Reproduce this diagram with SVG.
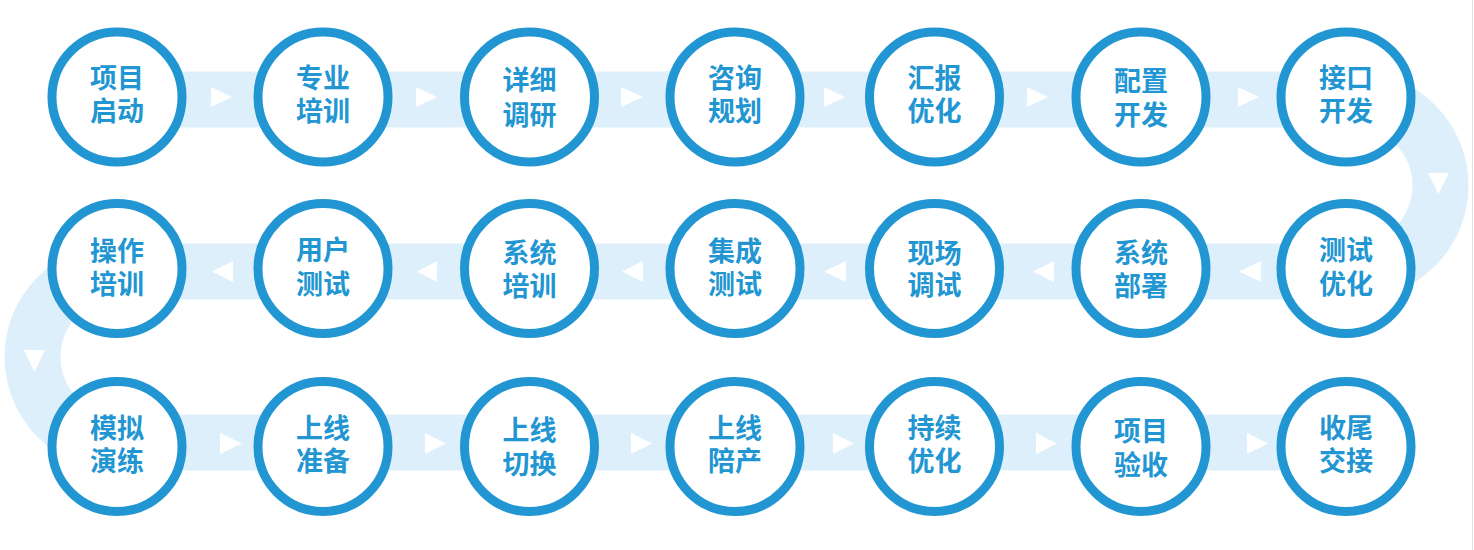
<svg xmlns="http://www.w3.org/2000/svg" width="1474" height="550" viewBox="0 0 1474 550">
<style>
.band{fill:none;stroke:#DDEFFA;stroke-width:56}
.arr{fill:#FFFFFF}
.ring{fill:#FFFFFF;stroke:#2196D2;stroke-width:9}
.lbl{font-family:"Noto Sans CJK SC","Noto Sans",sans-serif;font-weight:700;font-size:27px;fill:#2196D2;text-anchor:middle}
</style>
<rect x="0" y="0" width="1474" height="550" fill="#FFFFFF"/>
<line x1="1472.5" y1="0" x2="1472.5" y2="550" stroke="#E2E2E2" stroke-width="1"/>
<g id="connectors">
<path class="band" d="M117,99.5 H1354.5 A86,86 0 0 1 1354.5,271.5 H118 A85.5,85.5 0 0 0 118,442.5 H1346"/>
<polygon class="arr" points="211,87 232,97 211,107"/>
<polygon class="arr" points="416,87 437,97 416,107"/>
<polygon class="arr" points="621,87 643,97 621,107"/>
<polygon class="arr" points="824,87 845,97 824,107"/>
<polygon class="arr" points="1027,87 1048,97 1027,107"/>
<polygon class="arr" points="1238,87 1259,97 1238,107"/>
<polygon class="arr" points="1428,173 1449,173 1438.5,194"/>
<polygon class="arr" points="1261,261 1239,271.5 1261,282"/>
<polygon class="arr" points="1054,261 1033,271.5 1054,282"/>
<polygon class="arr" points="846,261 824,271.5 846,282"/>
<polygon class="arr" points="643,261 622,271.5 643,282"/>
<polygon class="arr" points="437,261 417,271.5 437,282"/>
<polygon class="arr" points="233,261 212,271.5 233,282"/>
<polygon class="arr" points="24,350 45,350 34.5,372"/>
<polygon class="arr" points="220,433 242,443.5 220,454"/>
<polygon class="arr" points="425,433 446,443.5 425,454"/>
<polygon class="arr" points="631,433 652,443.5 631,454"/>
<polygon class="arr" points="833,433 854,443.5 833,454"/>
<polygon class="arr" points="1036,433 1057,443.5 1036,454"/>
<polygon class="arr" points="1247,433 1268,443.5 1247,454"/>
</g>
<g id="n1"><circle class="ring" cx="117" cy="97" r="65"/><text class="lbl"><tspan x="117" y="88">项目</tspan><tspan x="117" y="121">启动</tspan></text></g>
<g id="n2"><circle class="ring" cx="323" cy="97" r="65"/><text class="lbl"><tspan x="323" y="88">专业</tspan><tspan x="323" y="121">培训</tspan></text></g>
<g id="n3"><circle class="ring" cx="529.5" cy="97" r="65"/><text class="lbl"><tspan x="529.5" y="90">详细</tspan><tspan x="529.5" y="125">调研</tspan></text></g>
<g id="n4"><circle class="ring" cx="735" cy="97" r="65"/><text class="lbl"><tspan x="735" y="88">咨询</tspan><tspan x="735" y="121">规划</tspan></text></g>
<g id="n5"><circle class="ring" cx="934.5" cy="97" r="65"/><text class="lbl"><tspan x="934.5" y="88">汇报</tspan><tspan x="934.5" y="121">优化</tspan></text></g>
<g id="n6"><circle class="ring" cx="1141" cy="97" r="65"/><text class="lbl"><tspan x="1141" y="91">配置</tspan><tspan x="1141" y="125">开发</tspan></text></g>
<g id="n7"><circle class="ring" cx="1346" cy="97" r="65"/><text class="lbl"><tspan x="1346" y="88">接口</tspan><tspan x="1346" y="121">开发</tspan></text></g>
<g id="n8"><circle class="ring" cx="1346" cy="268.5" r="65"/><text class="lbl"><tspan x="1346" y="260">测试</tspan><tspan x="1346" y="294">优化</tspan></text></g>
<g id="n9"><circle class="ring" cx="1141" cy="268.5" r="65"/><text class="lbl"><tspan x="1141" y="263">系统</tspan><tspan x="1141" y="296">部署</tspan></text></g>
<g id="n10"><circle class="ring" cx="934.5" cy="268.5" r="65"/><text class="lbl"><tspan x="934.5" y="263">现场</tspan><tspan x="934.5" y="295">调试</tspan></text></g>
<g id="n11"><circle class="ring" cx="735" cy="268.5" r="65"/><text class="lbl"><tspan x="735" y="261">集成</tspan><tspan x="735" y="294">测试</tspan></text></g>
<g id="n12"><circle class="ring" cx="529.5" cy="268.5" r="65"/><text class="lbl"><tspan x="529.5" y="263">系统</tspan><tspan x="529.5" y="296">培训</tspan></text></g>
<g id="n13"><circle class="ring" cx="323" cy="268.5" r="65"/><text class="lbl"><tspan x="323" y="260">用户</tspan><tspan x="323" y="294">测试</tspan></text></g>
<g id="n14"><circle class="ring" cx="117" cy="268.5" r="65"/><text class="lbl"><tspan x="117" y="261">操作</tspan><tspan x="117" y="294">培训</tspan></text></g>
<g id="n15"><circle class="ring" cx="117" cy="446.5" r="65"/><text class="lbl"><tspan x="117" y="438">模拟</tspan><tspan x="117" y="471">演练</tspan></text></g>
<g id="n16"><circle class="ring" cx="323" cy="446.5" r="65"/><text class="lbl"><tspan x="323" y="438">上线</tspan><tspan x="323" y="471">准备</tspan></text></g>
<g id="n17"><circle class="ring" cx="529.5" cy="446.5" r="65"/><text class="lbl"><tspan x="529.5" y="440">上线</tspan><tspan x="529.5" y="474">切换</tspan></text></g>
<g id="n18"><circle class="ring" cx="735" cy="446.5" r="65"/><text class="lbl"><tspan x="735" y="438">上线</tspan><tspan x="735" y="471">陪产</tspan></text></g>
<g id="n19"><circle class="ring" cx="934.5" cy="446.5" r="65"/><text class="lbl"><tspan x="934.5" y="438">持续</tspan><tspan x="934.5" y="471">优化</tspan></text></g>
<g id="n20"><circle class="ring" cx="1141" cy="446.5" r="65"/><text class="lbl"><tspan x="1141" y="441">项目</tspan><tspan x="1141" y="475">验收</tspan></text></g>
<g id="n21"><circle class="ring" cx="1346" cy="446.5" r="65"/><text class="lbl"><tspan x="1346" y="438">收尾</tspan><tspan x="1346" y="471">交接</tspan></text></g>
</svg>
